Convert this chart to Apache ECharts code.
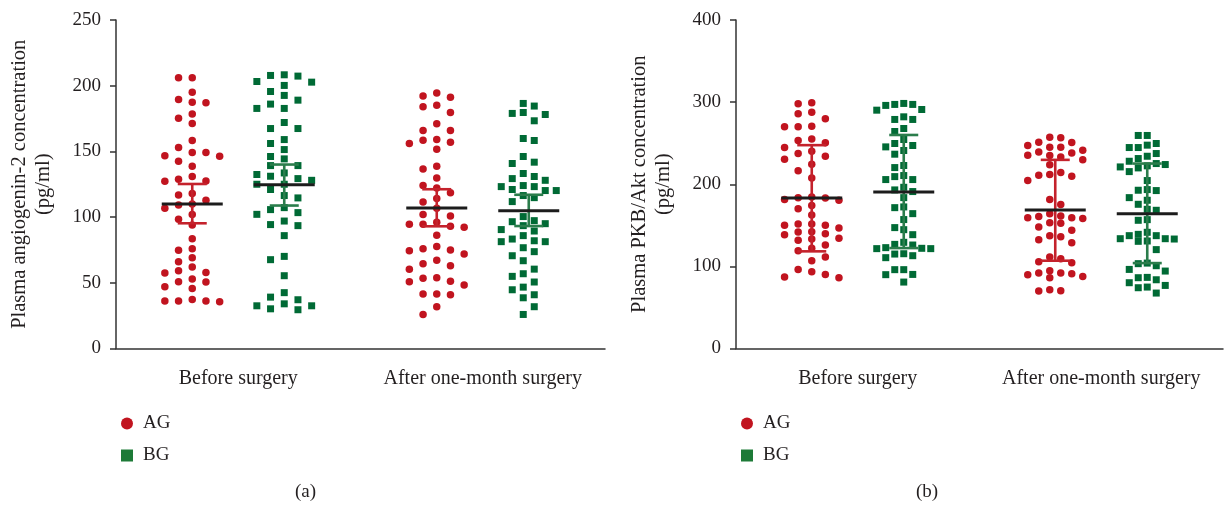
<!DOCTYPE html>
<html>
<head>
<meta charset="utf-8">
<script src="https://cdn.jsdelivr.net/npm/echarts@6/dist/echarts.min.js"></script>
<style>
html,body{margin:0;padding:0;background:#fff;}
#chart{width:1224px;height:507px;}
</style>
</head>
<body>
<div id="chart"></div>
<script>
// ---------------- DATA ----------------
const categories = ['Before surgery', 'After one-month surgery'];
const groups = ['AG', 'BG'];

// Panel (a): plasma angiogenin-2 (pg/ml)
const angAG_before = [206,206,195,187,189.5,187.5,178.4,175.3,171.3,158.3,153,146.6,146.3,149.2,149.2,142.5,138.7,130.9,127.3,128.8,127.5,117.9,116.9,112.8,109.2,110,106.7,101.9,98.3,94,83.6,74.7,76,66.1,69.1,62,57.4,57.9,59.2,52.8,50.6,50.8,45.7,47,36.1,37.3,36.1,36.1,35.6];
const angBG_before = [207.8,203.2,207.3,208.3,202.7,200.2,195.6,192.6,189,186,182.7,182.7,172,167.4,167.4,159,156,151.4,146.1,144.3,139.2,139.2,133.6,128,132.4,131.1,129.3,125,125,121,116.4,114.6,105.7,107.2,103.4,102.1,97,94.3,93.5,85.9,67.6,70.1,55.4,42.5,39.1,34,37.1,30.2,32.5,32.5,29.5];
const angAG_after = [194.4,192.1,191.3,183.9,185.2,179.6,171,165.9,165.9,159,156,157,158.5,151.7,138.7,136.7,129.8,122.2,124,118.5,114.1,111.5,106.7,101.9,100.8,94.5,94.5,93,96,92.2,86.1,76,77.7,71.9,74.9,74.4,64.5,67.1,60.4,63,53.9,50.8,51.1,53.4,48.3,41.4,40.9,41.4,31.8,25.9];
const angBG_after = [186.5,178.1,179.6,184.5,178.9,173.3,158.3,159.8,146.1,141.8,140.8,133.2,129.3,128,130.9,124,120.2,120.2,121,123.2,123.2,114.8,116.4,111.8,96.5,97.3,100.4,95,93.5,90.5,89.4,85.9,81.3,83.3,82,81.3,76.7,73.7,70.6,66.8,56.9,60.4,54.9,50.6,44.7,46.7,40.9,38.6,31.8,25.9];
// mean and error-bar limits, [before, after]
const angMeanAG = [110, 107];
const angLowAG  = [95.3, 93];
const angHighAG = [125.2, 121.2];
const angMeanBG = [124.7, 104.8];
const angLowBG  = [108.8, 93.2];
const angHighBG = [140, 117];
const angTicks = [0, 50, 100, 150, 200, 250];

// Panel (b): plasma PKB/Akt (pg/ml)
const pkbAG_before = [298,299.2,287.8,285.8,279.7,270.7,269.9,269.9,255.2,253.3,250.4,244.7,237.4,240.2,234.1,230.5,224.4,216.3,207.7,184.6,181.3,183.7,180.5,183.3,174,170.3,162.6,150,151.6,151.6,150,146.7,139.8,142.3,141.9,138.6,131.7,134.1,133.3,126,122,119.1,111.4,106.9,96.3,90.2,93.5,87,86.2];
const pkbBG_before = [297.2,298.4,290.2,282.1,296,297.2,291,278.9,278.9,267.9,264.2,249.6,247.2,254.5,245.5,236.6,241.1,222.8,220.3,209.3,205.7,205.7,210.6,191.1,193.1,196.3,183.7,171.5,172.4,164.2,157,144.7,147.2,138.6,122.8,126.8,126,121.6,122,129.3,121.6,115,110.6,113,115.4,96,90.2,96,89.9,80.9];
const pkbAG_after = [256.5,257.3,250.8,251.2,247.2,245.1,245.1,241.5,239.4,235.4,235,238.2,233.3,223.6,229.7,214.2,211.8,209.8,211,204.5,181.3,175.2,159.3,164.2,160.6,159.3,158.2,161.4,152.4,153.2,147.9,143.9,136.2,137.4,132.5,128.9,109.3,111.4,104.5,105.7,91.9,94.7,91.9,89.8,91.1,87.8,86.2,69.9,71.5,70.3];
const pkbBG_after = [259.4,259.4,249.6,247.6,237.4,244.7,244.7,234.1,224,228,219.9,221.1,225.2,231.3,222.4,215.4,204.5,192.3,192.7,183.7,175.6,193.5,180.5,169.5,168.3,156.9,156.1,137.4,141.5,133.3,139,130.9,137.4,133.7,133.7,130.5,120.4,100.8,104,94.3,96.3,103.3,83.7,80.1,86.6,74.8,86.2,76.8,74,67.5];
const pkbMeanAG = [183.3, 168.7];
const pkbLowAG  = [118.3, 106.9];
const pkbHighAG = [247.6, 229.7];
const pkbMeanBG = [190.6, 164.2];
const pkbLowBG  = [122.3, 104];
const pkbHighBG = [260, 225.2];
const pkbTicks = [0, 100, 200, 300, 400];

// ---------------- STYLE / LAYOUT ----------------
const FONT = 'Liberation Serif';
const TXT = '#231f20';
const RED = '#c1141f';
const GREEN = '#006a35';
const RED_BAR = '#c4222c';
const GREEN_BAR = '#2b7d4c';
const GRID_TOP = 20, GRID_BOTTOM = 158.5;
const PLOT_H = 507 - GRID_TOP - GRID_BOTTOM;
// swarm style per group: [lane spacing px, number of lanes] for [before, after]
const panels = [
  {left: 116, right: 619, yMax: 250, yInt: 50, name: 'Plasma angiogenin-2 concentration\n(pg/ml)',
   AG: [angAG_before, angAG_after], BG: [angBG_before, angBG_after],
   meanAG: angMeanAG, lowAG: angLowAG, highAG: angHighAG,
   meanBG: angMeanBG, lowBG: angLowBG, highBG: angHighBG,
   laneAG: [[13.7, 5], [13.7, 5]], laneBG: [[13.7, 5], [11, 6]], caption: '(a)', capX: 305.5, legendLeft: 116},
  {left: 736, right: 1, yMax: 400, yInt: 100, name: 'Plasma PKB/Akt concentration\n(pg/ml)',
   AG: [pkbAG_before, pkbAG_after], BG: [pkbBG_before, pkbBG_after],
   meanAG: pkbMeanAG, lowAG: pkbLowAG, highAG: pkbHighAG,
   meanBG: pkbMeanBG, lowBG: pkbLowBG, highBG: pkbHighBG,
   laneAG: [[13.6, 5], [11, 6]], laneBG: [[9, 7], [9, 7]], caption: '(b)', capX: 927, legendLeft: 736}
];
const GROUP_OFFSET_PX = 46;
const DOT = 7.5, SQUARE = 7;
const COLLIDE_PX = 9;

// beeswarm layout: greedy lane assignment with a limited number of lanes (returns pixel offsets)
function swarm(values, lanePx, nLanes, pxPerY) {
  const lanes = [];
  for (let i = 0; i < nLanes; i++) lanes.push(i - (nLanes - 1) / 2);
  lanes.sort((a, b) => Math.abs(a) - Math.abs(b) || a - b);
  const idx = values.map((v, i) => i).sort((a, b) => values[b] - values[a]);
  const placed = [];
  const off = new Array(values.length);
  idx.forEach(i => {
    const v = values[i];
    let best = null, bestGap = -1;
    for (const lane of lanes) {
      let gap = Infinity;
      placed.forEach(p => { if (p.lane === lane) gap = Math.min(gap, Math.abs(p.v - v) * pxPerY); });
      if (gap >= COLLIDE_PX) { best = lane; break; }
      if (gap > bestGap) { bestGap = gap; best = lane; }
    }
    placed.push({lane: best, v});
    off[i] = best * lanePx;
  });
  return off;
}

const grid = [], xAxis = [], yAxis = [], series = [], legend = [], graphic = [];
panels.forEach((p, pi) => {
  grid.push({left: p.left, right: p.right, top: GRID_TOP, bottom: GRID_BOTTOM});
  const plotW = 1224 - p.left - p.right;
  const pxPerX = plotW / 2;
  const pxPerY = PLOT_H / p.yMax;
  xAxis.push({
    type: 'category', gridIndex: pi, data: categories,
    axisLine: {lineStyle: {color: '#333', width: 1.5}},
    axisTick: {alignWithLabel: true, length: 7, lineStyle: {color: '#333', width: 1.5}},
    axisLabel: {fontFamily: FONT, fontSize: 20, color: TXT, margin: 20, interval: 0}
  });
  xAxis.push({type: 'value', gridIndex: pi, min: -0.5, max: 1.5, show: false});
  yAxis.push({
    type: 'value', gridIndex: pi, min: 0, max: p.yMax, interval: p.yInt,
    name: p.name, nameLocation: 'middle', nameGap: 60,
    nameTextStyle: {fontFamily: FONT, fontSize: 20.5, color: TXT, lineHeight: 24},
    axisLine: {show: true, onZero: false, lineStyle: {color: '#333', width: 1.5}},
    axisTick: {show: true, length: 6, lineStyle: {color: '#333', width: 1.5}},
    axisLabel: {fontFamily: FONT, fontSize: 19, color: TXT, margin: 15},
    splitLine: {show: false}
  });
  const xi = pi * 2 + 1;
  groups.forEach((g, gi) => {
    const sign = gi === 0 ? -1 : 1;
    const pts = [];
    for (let c = 0; c < categories.length; c++) {
      const vals = p[g][c];
      const ls = gi === 0 ? p.laneAG[c] : p.laneBG[c];
      const offs = swarm(vals, ls[0], ls[1], pxPerY);
      vals.forEach((v, i) => {
        pts.push([c + (sign * GROUP_OFFSET_PX + offs[i]) / pxPerX, v]);
      });
    }
    series.push({
      type: 'scatter', name: g, xAxisIndex: xi, yAxisIndex: pi,
      symbol: gi === 0 ? 'circle' : 'rect', symbolSize: gi === 0 ? DOT : SQUARE,
      itemStyle: {color: gi === 0 ? RED : GREEN, opacity: 1},
      data: pts, z: 2, silent: true
    });
    const mean = p['mean' + g], low = p['low' + g], high = p['high' + g];
    const bars = categories.map((c, ci) => [ci + sign * GROUP_OFFSET_PX / pxPerX, mean[ci], low[ci], high[ci]]);
    const barColor = gi === 0 ? RED_BAR : GREEN_BAR;
    series.push({
      type: 'custom', name: g + ' mean', xAxisIndex: xi, yAxisIndex: pi, z: 5, silent: true,
      data: bars,
      renderItem: function (params, api) {
        const x = api.value(0);
        const pm = api.coord([x, api.value(1)]);
        const pl = api.coord([x, api.value(2)]);
        const ph = api.coord([x, api.value(3)]);
        const cap = 14.5, half = 30.5;
        const st = {stroke: barColor, lineWidth: 2.6};
        return {type: 'group', children: [
          {type: 'line', shape: {x1: pl[0], y1: pl[1], x2: ph[0], y2: ph[1]}, style: st},
          {type: 'line', shape: {x1: ph[0] - cap, y1: ph[1], x2: ph[0] + cap, y2: ph[1]}, style: st},
          {type: 'line', shape: {x1: pl[0] - cap, y1: pl[1], x2: pl[0] + cap, y2: pl[1]}, style: st},
          {type: 'line', shape: {x1: pm[0] - half, y1: pm[1], x2: pm[0] + half, y2: pm[1]}, style: {stroke: '#1c1c1c', lineWidth: 3}}
        ]};
      }
    });
  });
  legend.push({
    orient: 'vertical', left: p.legendLeft, top: 409, itemWidth: 12, itemHeight: 12, itemGap: 13,
    data: [{name: 'AG', icon: 'circle', itemStyle: {color: RED}}, {name: 'BG', icon: 'rect', itemStyle: {color: '#1d7a37'}}],
    textStyle: {fontFamily: FONT, fontSize: 19, color: TXT, padding: [0, 0, 0, 5]},
    selectedMode: false
  });
  graphic.push({
    type: 'text', x: p.capX, y: 492,
    style: {text: p.caption, font: '19px "' + FONT + '"', fill: TXT, textAlign: 'center', textVerticalAlign: 'middle'}
  });
});

const chart = echarts.init(document.getElementById('chart'), null, {renderer: 'canvas'});
chart.setOption({
  animation: false,
  backgroundColor: '#fff',
  grid, xAxis, yAxis, series, legend, graphic
});
</script>
</body>
</html>
